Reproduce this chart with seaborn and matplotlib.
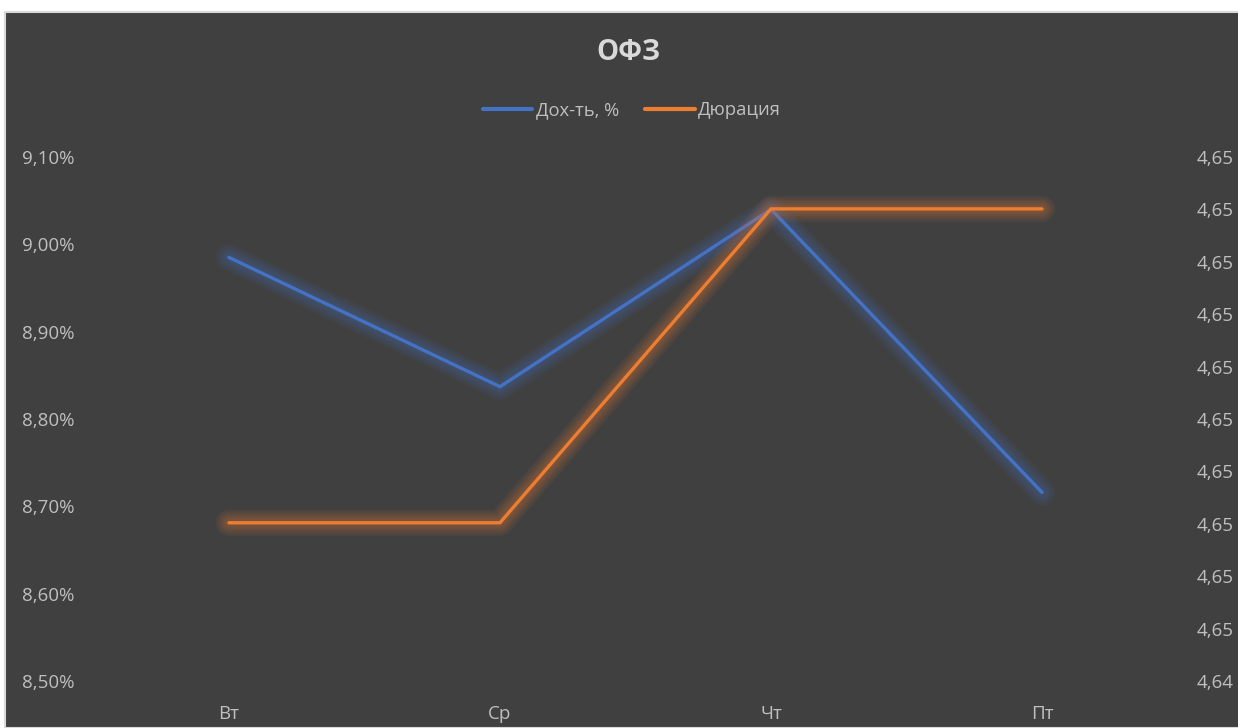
import numpy as np
import pandas as pd
import matplotlib
matplotlib.use("Agg")
import matplotlib.pyplot as plt
import matplotlib.patches as patches
import seaborn as sns
from matplotlib.ticker import FuncFormatter, FixedLocator

# ------------------------------------------------------------
# DATA
# ------------------------------------------------------------
days = ["Вт", "Ср", "Чт", "Пт"]
yield_pct = [8.985, 8.837, 9.040, 8.716]        # Дох-ть, %
duration = [4.64762, 4.64762, 4.65361, 4.65361]  # Дюрация

df = pd.DataFrame({"day": days, "x": range(len(days)),
                   "yield": yield_pct, "duration": duration})

BG = "#404040"
TXT = "#bfbfbf"
BLUE = "#4472c4"
ORANGE = "#ed7d31"

sns.set_theme(style="dark")
plt.rcParams["font.family"] = ["Open Sans", "DejaVu Sans"]

fig = plt.figure(figsize=(12.38, 7.28), dpi=100)
fig.patch.set_facecolor("white")
# dark chart area (white strip on top/left like the screenshot)
fig.patches.append(patches.Rectangle((5 / 1238, 0), 1, 1 - 12 / 728,
                                     transform=fig.transFigure,
                                     facecolor=BG, edgecolor="#d9d9d9",
                                     linewidth=1.5, zorder=-5))

ax = fig.add_axes([93.5 / 1238, 1 - 681 / 728, 1084 / 1238, 524 / 728])
ax.set_facecolor("none")
ax2 = ax.twinx()


def glow_line(axis, y, color):
    # soft glow: several wide, faint passes under the main line
    for lw in [19, 16, 13, 10.5, 8, 5.5]:
        sns.lineplot(data=df, x="x", y=y, ax=axis, color=color,
                     linewidth=lw, alpha=0.065, solid_capstyle="round",
                     solid_joinstyle="round", legend=False)
    sns.lineplot(data=df, x="x", y=y, ax=axis, color=color,
                 linewidth=2.4, solid_capstyle="round", legend=False)


glow_line(ax, "yield", BLUE)
glow_line(ax2, "duration", ORANGE)

ax.set_xlim(-0.5, 3.5)
ax.set_ylim(8.5, 9.1)
ax.set_yticks(np.arange(8.5, 9.101, 0.1))
ax.yaxis.set_major_formatter(FuncFormatter(lambda v, p: f"{v:.2f}%".replace(".", ",")))
ax.set_xticks(range(len(days)))
ax.set_xticklabels(days)

ax2.set_ylim(4.6446, 4.6546)
ax2.yaxis.set_major_locator(FixedLocator(np.linspace(4.6446, 4.6546, 11)))
ax2.yaxis.set_major_formatter(FuncFormatter(lambda v, p: f"{v:.2f}".replace(".", ",")))

for a in (ax, ax2):
    a.grid(False)
    for s in a.spines.values():
        s.set_visible(False)
    a.set_xlabel("")
    a.set_ylabel("")
    a.tick_params(colors=TXT, labelsize=13.5, length=0)

ax.tick_params(axis="y", pad=13.5)
ax.tick_params(axis="x", pad=17)
ax2.tick_params(axis="y", pad=14)

fig.text(628 / 1238, 1 - 52 / 728, "ОФЗ", ha="center", va="center",
         fontsize=20, fontweight="bold", color="#d9d9d9")

handles = [plt.Line2D([], [], color=BLUE, linewidth=3),
           plt.Line2D([], [], color=ORANGE, linewidth=3)]
fig.legend(handles, ["Дох-ть, %", "Дюрация"], loc="center",
           bbox_to_anchor=(632 / 1238, 1 - 110 / 728), ncol=2, frameon=False,
           handlelength=2.7, handletextpad=0.2, columnspacing=1.4,
           fontsize=13.2, labelcolor=TXT)

fig.savefig("out.png", dpi=100, facecolor=fig.get_facecolor())
